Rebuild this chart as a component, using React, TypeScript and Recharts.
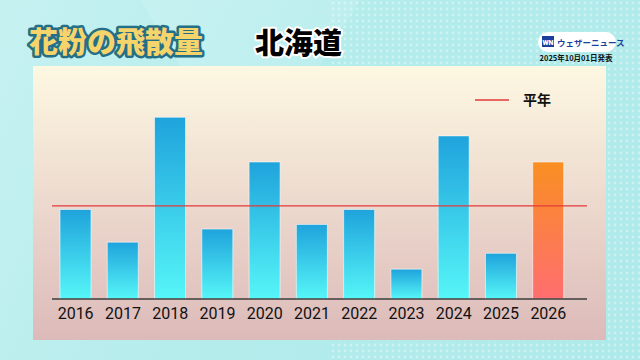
import React from "react";
import {
  BarChart,
  Bar,
  Cell,
  XAxis,
  YAxis,
  ReferenceLine,
} from "recharts";

const years = ["2016", "2017", "2018", "2019", "2020", "2021", "2022", "2023", "2024", "2025", "2026"];
const amounts = [96, 61, 195, 75, 147, 80, 96, 32, 175, 49, 147];
const normalYear = 100;
const forecastYear = "2026";

const data = years.map((year, i) => ({ year, amount: amounts[i] }));

const jp = '"Noto Sans CJK JP", "Noto Sans", sans-serif';

export default function App() {
  return (
    <div
      style={{
        position: "fixed",
        left: 0,
        top: 0,
        width: 640,
        height: 360,
        overflow: "hidden",
        background: "linear-gradient(115deg, #c6f1f1 0%, #b4ecec 45%, #aee9e9 100%)",
      }}
    >
      <svg width={640} height={360} style={{ position: "absolute", left: 0, top: 0 }}>
        <defs>
          <pattern id="dots" width="6" height="6" patternUnits="userSpaceOnUse">
            <circle cx="3" cy="3" r="1.4" fill="#ffffff" opacity="0.35" />
          </pattern>
          <linearGradient id="panelBg" x1="0" y1="0" x2="0" y2="1">
            <stop offset="0%" stopColor="#fdf8e2" />
            <stop offset="100%" stopColor="#dcbab9" />
          </linearGradient>
        </defs>
        <rect x={330} y={0} width={310} height={360} fill="url(#dots)" />
        <polygon points="140,0 250,180 360,0" fill="#ffffff" opacity="0.12" />
        <rect x={33} y={66} width={573} height={274} fill="url(#panelBg)" />
        <text
          x={29}
          y={53}
          fontFamily={jp}
          fontWeight={900}
          fontSize={29}
          fill="#f6d46c"
          stroke="#236f88"
          strokeWidth={5}
          strokeLinejoin="round"
          paintOrder="stroke"
        >
          花粉の飛散量
        </text>
        <text
          x={255}
          y={54}
          fontFamily={jp}
          fontWeight={900}
          fontSize={29}
          fill="#000"
          stroke="#fff"
          strokeWidth={4}
          strokeLinejoin="round"
          paintOrder="stroke"
        >
          北海道
        </text>
        <rect x={538} y={32} width={78} height={20} rx={10} fill="#fff" />
        <rect x={542} y={36} width={12} height={11} fill="#1d3f9c" />
        <text x={548} y={45} textAnchor="middle" fontFamily="Roboto" fontWeight={900} fontSize={7} fill="#fff">
          WN
        </text>
        <text x={557} y={46} fontFamily={jp} fontWeight={700} fontSize={8.5} fill="#1d3f9c">
          ウェザーニュース
        </text>
        <text x={576} y={61} textAnchor="middle" fontFamily={jp} fontWeight={700} fontSize={7.5} fill="#111">
          2025年10月01日発表
        </text>
        <line x1={475} y1={100} x2={509} y2={100} stroke="#e23a3a" strokeWidth={1.5} />
        <text x={523} y={105} fontFamily={jp} fontWeight={700} fontSize={14} fill="#111">
          平年
        </text>
      </svg>
      <div style={{ position: "absolute", left: 0, top: 0 }}>
        <BarChart
          width={640}
          height={360}
          data={data}
          margin={{ top: 66, right: 53, left: 52, bottom: 31 }}
        >
          <defs>
            <linearGradient id="pastBar" x1="0" y1="0" x2="0" y2="1">
              <stop offset="0%" stopColor="#1fa3dc" />
              <stop offset="100%" stopColor="#56f6f8" />
            </linearGradient>
            <linearGradient id="forecastBar" x1="0" y1="0" x2="0" y2="1">
              <stop offset="0%" stopColor="#f98f22" />
              <stop offset="100%" stopColor="#ff6e70" />
            </linearGradient>
          </defs>
          <XAxis
            dataKey="year"
            height={30}
            padding={{ left: 0, right: 15 }}
            tick={{ fontSize: 16, fill: "#111", fontFamily: "Roboto" }}
            tickLine={false}
            tickMargin={3}
            axisLine={{ stroke: "#3d3d3d", strokeWidth: 1.5 }}
            interval={0}
          />
          <YAxis hide domain={[0, 250]} />
          <Bar
            dataKey="amount"
            barSize={31}
            isAnimationActive={false}
            stroke="rgba(255,255,255,0.55)"
            strokeWidth={1}
          >
            {data.map((d) => (
              <Cell key={d.year} fill={d.year === forecastYear ? "url(#forecastBar)" : "url(#pastBar)"} />
            ))}
          </Bar>
          <ReferenceLine y={normalYear} stroke="#e23a3a" strokeWidth={1.2} />
        </BarChart>
      </div>
    </div>
  );
}
